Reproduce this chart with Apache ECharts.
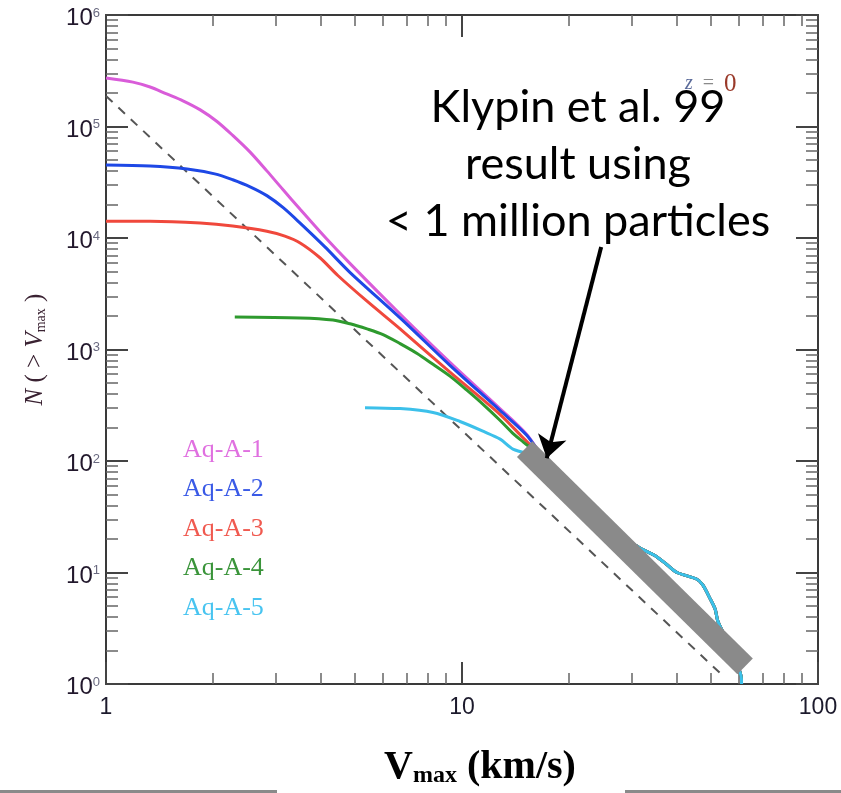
<!DOCTYPE html>
<html><head><meta charset="utf-8">
<script src="https://cdn.jsdelivr.net/npm/echarts@6/dist/echarts.min.js"></script>
<style>html,body{margin:0;padding:0;background:#fff}#c{width:841px;height:793px}</style>
</head><body><div id="c"></div>
<script>
// ---- data (V in km/s, N(>Vmax)) ----
const A1_V = [1.0, 1.19, 1.33, 1.48, 1.645, 1.84, 2.05, 2.27, 2.54, 2.83, 3.14, 3.51, 4.12, 4.85, 6.70, 9.25, 12.8, 15.2];
const A1_N = [2.72e5, 2.50e5, 2.26e5, 1.96e5, 1.70e5, 1.41e5, 1.11e5, 8.32e4, 5.89e4, 4.0e4, 2.72e4, 1.81e4, 1.02e4, 5890, 2080, 767, 294, 173];
const A2_V = [1.0, 1.33, 1.69, 2.02, 2.27, 2.54, 2.83, 3.14, 3.51, 4.12, 4.85, 6.70, 9.25, 12.8, 15.2];
const A2_N = [4.52e4, 4.43e4, 4.16e4, 3.76e4, 3.33e4, 2.88e4, 2.40e4, 1.88e4, 1.36e4, 8320, 4900, 1920, 721, 283, 170];
const A3_V = [1.0, 1.33, 1.84, 2.27, 2.83, 3.18, 3.51, 3.99, 4.48, 5.41, 6.70, 9.25, 12.8, 14.8];
const A3_N = [1.41e4, 1.41e4, 1.36e4, 1.28e4, 1.15e4, 1.04e4, 9030, 6650, 4610, 2710, 1530, 626, 261, 163];
const A4_V = [2.30, 3.51, 4.34, 4.85, 5.41, 6.0, 6.70, 7.48, 8.29, 9.25, 10.3, 11.5, 12.8, 14.0, 14.9];
const A4_N = [1960, 1920, 1840, 1700, 1530, 1360, 1130, 922, 737, 577, 434, 319, 231, 173, 147];
const A5_V = [5.34, 6.70, 8.29, 9.87, 11.5, 12.8, 13.9];
const A5_N = [301, 295, 272, 226, 184, 157, 128];
// common high-Vmax tail shared by all runs
const TAIL_V = [17.1, 24.4, 31.6, 34.8, 37.6, 40.2, 45.7, 47.5, 49.8, 51.4, 52.4, 56.6, 60.8, 61.0];
const TAIL_N = [102, 29.0, 16.6, 14.2, 11.8, 10.0, 8.7, 7.7, 5.8, 4.7, 3.61, 2.17, 1.18, 1.0];
// dashed power law, Klypin et al. band, arrow
const DASH_V = [1.0, 54];
const DASH_N = [1.88e5, 1.19];
const BAND_V = [15.0, 62.4];
const BAND_N = [128, 1.44];
const ARROW_V = [24.6, 17.3];
const ARROW_N = [8320, 106];
// ticks
const X_MAJOR = [1, 10, 100];
const Y_MAJOR = [1, 10, 100, 1e3, 1e4, 1e5, 1e6];
const X_MINOR = [];
for (const d of [1, 10]) for (let m = 2; m <= 9; m++) X_MINOR.push(m * d);
const Y_MINOR = [];
for (const d of [1, 10, 100, 1e3, 1e4, 1e5]) for (let m = 2; m <= 9; m++) Y_MINOR.push(m * d);

const NAMES = ['Aq-A-1', 'Aq-A-2', 'Aq-A-3', 'Aq-A-4', 'Aq-A-5'];
const LINE_COLORS = ['#d95cd9', '#1e48e6', '#f0483c', '#2e9a2e', '#3cc0ea'];
const TEXT_COLORS = ['#e070e0', '#3a5ae6', '#f05a50', '#3a943a', '#48c4f0'];

function pts(v, n) { return v.map((x, i) => [x, n[i]]); }
const curves = [[A1_V, A1_N], [A2_V, A2_N], [A3_V, A3_N], [A4_V, A4_N], [A5_V, A5_N]];

const AXC = '#3a3a3a';
function xAx(pos, ticks, len, line, label) {
  return {
    type: 'log', logBase: 10, min: 1, max: 100, position: pos,
    axisLine: { show: line, onZero: false, lineStyle: { color: AXC, width: 2 } },
    axisTick: { show: true, inside: true, length: len, customValues: ticks,
      lineStyle: { color: len > 15 ? '#444' : '#666', width: len > 15 ? 2 : 1.5 } },
    axisLabel: label ? { show: true, customValues: ticks, margin: 12, fontSize: 23,
      fontFamily: 'Liberation Sans', color: '#1c1a2c' } : { show: false },
    splitLine: { show: false }, minorTick: { show: false }, splitArea: { show: false }
  };
}
function yAx(pos, ticks, len, line, label) {
  return {
    type: 'log', logBase: 10, min: 1, max: 1e6, position: pos,
    axisLine: { show: line, onZero: false, lineStyle: { color: AXC, width: 2 } },
    axisTick: { show: true, inside: true, length: len, customValues: ticks,
      lineStyle: { color: len > 15 ? '#444' : '#666', width: len > 15 ? 2 : 1.5 } },
    axisLabel: label ? {
      show: true, customValues: ticks, margin: 6, align: 'right', padding: [7, 0, 0, 0],
      formatter: v => '{b|10}{s|' + Math.round(Math.log10(v)) + '}',
      rich: {
        b: { fontSize: 24, lineHeight: 24, fontFamily: 'Liberation Sans', color: '#22182c' },
        s: { fontSize: 13, lineHeight: 13, verticalAlign: 'top', fontFamily: 'Liberation Sans', color: '#6a6a80' }
      }
    } : { show: false },
    splitLine: { show: false }, minorTick: { show: false }, splitArea: { show: false }
  };
}

const xAxes = [
  xAx('bottom', X_MAJOR, 22, true, true),
  xAx('bottom', X_MINOR, 11, false, false),
  xAx('top', X_MAJOR, 22, true, false),
  xAx('top', X_MINOR, 11, false, false)
];
xAxes[0].name = '{a|V}{m|max}{a| (km/s)}';
xAxes[0].nameLocation = 'middle';
xAxes[0].nameGap = 60;
xAxes[0].nameTextStyle = {
  padding: [0, 0, 0, 36],
  rich: {
    a: { fontSize: 40, lineHeight: 44, fontWeight: 'bold', fontFamily: 'Liberation Serif', color: '#000', verticalAlign: 'bottom' },
    m: { fontSize: 24, lineHeight: 34, fontWeight: 'bold', fontFamily: 'Liberation Serif', color: '#000', verticalAlign: 'bottom' }
  }
};
const yAxes = [
  yAx('left', Y_MAJOR, 22, true, true),
  yAx('left', Y_MINOR, 12, false, false),
  yAx('right', Y_MAJOR, 22, true, false),
  yAx('right', Y_MINOR, 12, false, false)
];
yAxes[0].name = '{i|N}{n| ( > }{i|V}{s|max}{n| )}';
yAxes[0].nameLocation = 'middle';
yAxes[0].nameGap = 58;
yAxes[0].nameTextStyle = {
  rich: {
    i: { fontSize: 25, lineHeight: 27, fontStyle: 'italic', fontFamily: 'Liberation Serif', color: '#3a2232', verticalAlign: 'bottom' },
    n: { fontSize: 25, lineHeight: 27, fontFamily: 'Liberation Serif', color: '#3a2232', verticalAlign: 'bottom' },
    s: { fontSize: 14, lineHeight: 19, fontFamily: 'Liberation Serif', color: '#3a2232', verticalAlign: 'bottom' }
  }
};

const series = curves.map((c, i) => ({
  type: 'line', name: NAMES[i], xAxisIndex: 0, yAxisIndex: 0,
  data: pts(c[0].concat(TAIL_V), c[1].concat(TAIL_N)),
  showSymbol: false, symbol: 'none', smooth: 0.3,
  lineStyle: { color: LINE_COLORS[i], width: 3 }, itemStyle: { color: LINE_COLORS[i] },
  z: 2 + i, silent: true
}));
series.push({
  type: 'line', name: 'power law', xAxisIndex: 0, yAxisIndex: 0, data: pts(DASH_V, DASH_N),
  showSymbol: false, symbol: 'none',
  lineStyle: { color: '#555', width: 2, type: [9, 8] }, z: 1, silent: true
});
series.push({
  type: 'line', name: 'Klypin', xAxisIndex: 0, yAxisIndex: 0, data: pts(BAND_V, BAND_N),
  showSymbol: false, symbol: 'none',
  lineStyle: { color: '#8a8a8a', width: 22, cap: 'butt' }, z: 10, silent: true
});
series.push({
  type: 'lines', coordinateSystem: 'cartesian2d', xAxisIndex: 0, yAxisIndex: 0,
  data: [{ coords: pts(ARROW_V, ARROW_N) }],
  symbol: ['none', 'arrow'], symbolSize: [0, 22],
  lineStyle: { color: '#000', width: 4, opacity: 1, curveness: 0 }, z: 12, silent: true
});

const chart = echarts.init(document.getElementById('c'), null, { renderer: 'canvas' });
chart.setOption({
  backgroundColor: '#fff',
  animation: false,
  grid: { left: 106, right: 23, top: 15, bottom: 100, containLabel: false },
  xAxis: xAxes,
  yAxis: yAxes,
  legend: {
    orient: 'vertical', left: 178, top: 437, padding: 0, itemGap: 13.5,
    itemWidth: 0, itemHeight: 0, selectedMode: false,
    itemStyle: { opacity: 0 }, lineStyle: { opacity: 0 },
    textStyle: { fontSize: 26, lineHeight: 26, fontFamily: 'Liberation Serif' },
    data: NAMES.map((n, i) => ({ name: n, icon: 'rect', textStyle: { color: TEXT_COLORS[i] } }))
  },
  series: series,
  graphic: [
    { type: 'text', x: 685, y: 84, z: 50, style: {
      text: '{z|z}{e|  =  }{o|0}', verticalAlign: 'middle',
      rich: {
        z: { font: 'italic 20px Liberation Serif', fill: '#5a6a9a' },
        e: { font: '20px Liberation Serif', fill: '#8a8a8a' },
        o: { font: '25px Liberation Serif', fill: '#9a3a2a', verticalAlign: 'top' }
      } } },
    { type: 'text', x: 578, y: 164, z: 100, style: {
      text: 'Klypin et al. 99\nresult using\n< 1 million particles',
      fill: '#000', font: '45px Lato', align: 'center', verticalAlign: 'middle', lineHeight: 57 } },
    { type: 'rect', z: 100, shape: { x: 0, y: 790, width: 277, height: 3 }, style: { fill: '#8a8a8a' } },
    { type: 'rect', z: 100, shape: { x: 625, y: 790, width: 216, height: 3 }, style: { fill: '#8a8a8a' } }
  ]
});
</script></body></html>
